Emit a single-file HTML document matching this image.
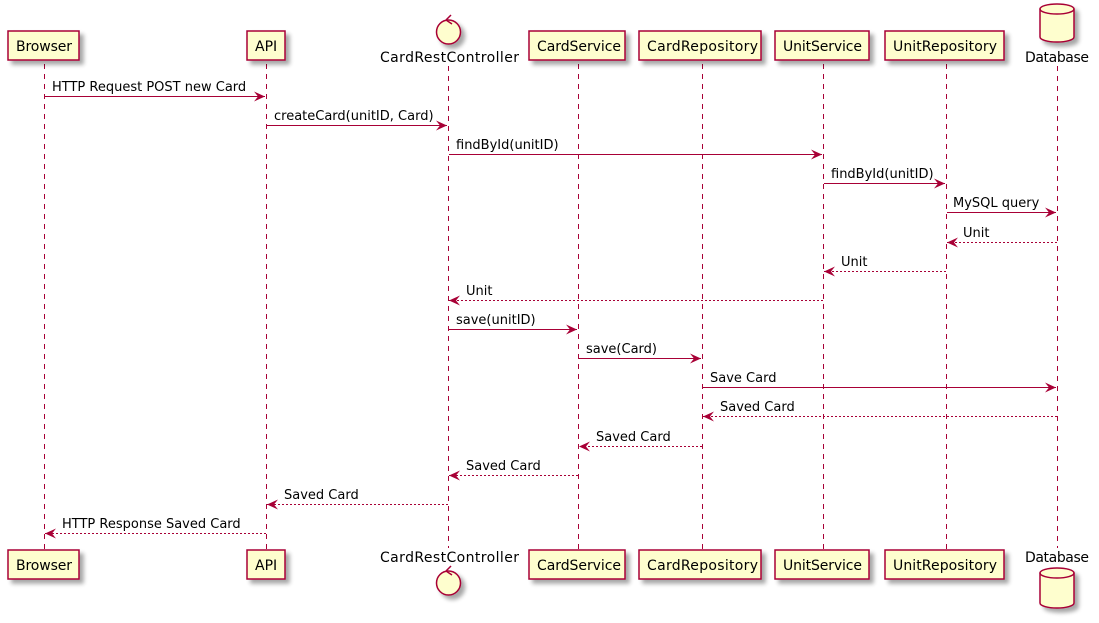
<!DOCTYPE html>
<html><head><meta charset="utf-8"><style>
html,body{margin:0;padding:0;background:#fff;}
svg{display:block;}
text{font-family:"DejaVu Sans","Liberation Sans",sans-serif;fill:#000;}
</style></head><body>
<svg width="1099" height="623" viewBox="0 0 1099 623" xmlns="http://www.w3.org/2000/svg">
<defs>
<filter id="sh" x="-20%" y="-20%" width="150%" height="160%"><feGaussianBlur in="SourceAlpha" stdDeviation="2"/><feOffset dx="4" dy="4"/><feComponentTransfer><feFuncA type="linear" slope="0.35"/></feComponentTransfer><feMerge><feMergeNode/><feMergeNode in="SourceGraphic"/></feMerge></filter>
<marker id="a" markerWidth="12" markerHeight="10" refX="11" refY="5" orient="auto" markerUnits="userSpaceOnUse"><path d="M0,0 L11,5 L0,10 L4,5 Z" fill="#A80036"/></marker>
</defs>
<g stroke="#A80036" stroke-dasharray="5,5" stroke-width="1">
<line x1="44.5" y1="64" x2="44.5" y2="550"/>
<line x1="266.5" y1="64" x2="266.5" y2="550"/>
<line x1="448.5" y1="66" x2="448.5" y2="548"/>
<line x1="578.5" y1="64" x2="578.5" y2="550"/>
<line x1="702.5" y1="64" x2="702.5" y2="550"/>
<line x1="823.5" y1="64" x2="823.5" y2="550"/>
<line x1="946.5" y1="64" x2="946.5" y2="550"/>
<line x1="1057.5" y1="66" x2="1057.5" y2="548"/>
</g>
<g fill="#FEFECE" stroke="#A80036" stroke-width="1.5" filter="url(#sh)">
<rect x="8" y="31" width="71" height="29"/><rect x="247" y="31" width="38" height="29"/>
<rect x="529" y="31" width="96" height="29"/><rect x="639" y="31" width="122" height="29"/>
<rect x="775" y="31" width="94" height="29"/><rect x="885" y="31" width="119" height="29"/>
<rect x="8" y="550" width="71" height="29"/><rect x="247" y="550" width="38" height="29"/>
<rect x="529" y="550" width="96" height="29"/><rect x="639" y="550" width="122" height="29"/>
<rect x="775" y="550" width="94" height="29"/><rect x="885" y="550" width="119" height="29"/>
<circle cx="448.5" cy="32" r="12"/><circle cx="448.5" cy="583" r="12"/>
<path d="M1040,9 A17,5 0 0 1 1074,9 L1074,37 A17,5 0 0 1 1040,37 Z"/>
<path d="M1040,573 A17,5 0 0 1 1074,573 L1074,603 A17,5 0 0 1 1040,603 Z"/>
</g>
<g fill="none" stroke="#A80036" stroke-width="1.5">
<path d="M1040,9 A17,5 0 0 0 1074,9"/><path d="M1040,573 A17,5 0 0 0 1074,573"/>
<path d="M446,20 L452,24 M446,20 L451,15"/><path d="M446,571 L452,575 M446,571 L451,566"/>
</g>
<g font-size="14">
<text x="16" y="51" textLength="56">Browser</text><text x="255" y="51">API</text>
<text x="537" y="51" textLength="84">CardService</text><text x="647" y="51" textLength="111">CardRepository</text>
<text x="783" y="51" textLength="79">UnitService</text><text x="893" y="51" textLength="104">UnitRepository</text>
<text x="16" y="570" textLength="56">Browser</text><text x="255" y="570">API</text>
<text x="537" y="570" textLength="84">CardService</text><text x="647" y="570" textLength="111">CardRepository</text>
<text x="783" y="570" textLength="79">UnitService</text><text x="893" y="570" textLength="104">UnitRepository</text>
<text x="380" y="62" textLength="139">CardRestController</text><text x="380" y="562" textLength="139">CardRestController</text>
<text x="1025" y="62" textLength="64">Database</text><text x="1025" y="562" textLength="64">Database</text>
</g>
<g stroke="#A80036" stroke-width="1">
<line x1="45" y1="96.5" x2="265" y2="96.5" marker-end="url(#a)"/>
<line x1="267" y1="125.5" x2="447" y2="125.5" marker-end="url(#a)"/>
<line x1="449" y1="154.5" x2="822" y2="154.5" marker-end="url(#a)"/>
<line x1="824" y1="183.5" x2="945" y2="183.5" marker-end="url(#a)"/>
<line x1="947" y1="212.5" x2="1056" y2="212.5" marker-end="url(#a)"/>
<line x1="449" y1="329.5" x2="577" y2="329.5" marker-end="url(#a)"/>
<line x1="579" y1="358.5" x2="701" y2="358.5" marker-end="url(#a)"/>
<line x1="703" y1="387.5" x2="1056" y2="387.5" marker-end="url(#a)"/>
</g>
<g stroke="#A80036" stroke-width="1" stroke-dasharray="2,2">
<line x1="1057" y1="242.5" x2="947" y2="242.5" marker-end="url(#a)"/>
<line x1="946" y1="271.5" x2="824" y2="271.5" marker-end="url(#a)"/>
<line x1="823" y1="300.5" x2="449" y2="300.5" marker-end="url(#a)"/>
<line x1="1057" y1="416.5" x2="703" y2="416.5" marker-end="url(#a)"/>
<line x1="702" y1="446.5" x2="579" y2="446.5" marker-end="url(#a)"/>
<line x1="578" y1="475.5" x2="449" y2="475.5" marker-end="url(#a)"/>
<line x1="448" y1="504.5" x2="267" y2="504.5" marker-end="url(#a)"/>
<line x1="266" y1="533.5" x2="45" y2="533.5" marker-end="url(#a)"/>
</g>
<g font-size="13">
<text x="52" y="91">HTTP Request POST new Card</text>
<text x="274" y="120">createCard(unitID, Card)</text>
<text x="456" y="149">findById(unitID)</text>
<text x="831" y="178">findById(unitID)</text>
<text x="953" y="207">MySQL query</text>
<text x="963" y="237">Unit</text>
<text x="841" y="266">Unit</text>
<text x="466" y="295">Unit</text>
<text x="456" y="324">save(unitID)</text>
<text x="586" y="353">save(Card)</text>
<text x="710" y="382">Save Card</text>
<text x="720" y="411">Saved Card</text>
<text x="596" y="441">Saved Card</text>
<text x="466" y="470">Saved Card</text>
<text x="284" y="499">Saved Card</text>
<text x="62" y="528">HTTP Response Saved Card</text>
</g>
</svg>
</body></html>
